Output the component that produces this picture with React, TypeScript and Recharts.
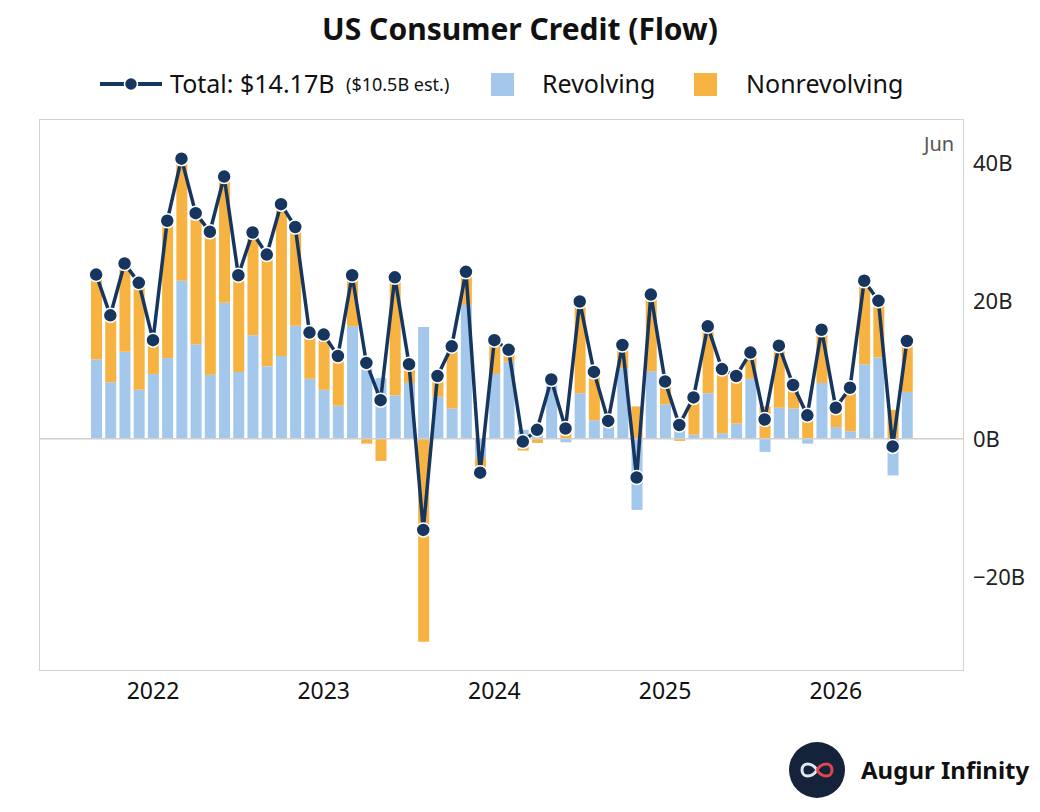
import React from 'react';
import {
  ComposedChart,
  Bar,
  Line,
  XAxis,
  YAxis,
  ReferenceLine,
} from 'recharts';

const months = [
  'Sep 21', 'Oct 21', 'Nov 21', 'Dec 21',
  'Jan 22', 'Feb 22', 'Mar 22', 'Apr 22', 'May 22', 'Jun 22', 'Jul 22', 'Aug 22', 'Sep 22', 'Oct 22', 'Nov 22', 'Dec 22',
  'Jan 23', 'Feb 23', 'Mar 23', 'Apr 23', 'May 23', 'Jun 23', 'Jul 23', 'Aug 23', 'Sep 23', 'Oct 23', 'Nov 23', 'Dec 23',
  'Jan 24', 'Feb 24', 'Mar 24', 'Apr 24', 'May 24', 'Jun 24', 'Jul 24', 'Aug 24', 'Sep 24', 'Oct 24', 'Nov 24', 'Dec 24',
  'Jan 25', 'Feb 25', 'Mar 25', 'Apr 25', 'May 25', 'Jun 25', 'Jul 25', 'Aug 25', 'Sep 25', 'Oct 25', 'Nov 25', 'Dec 25',
  'Jan 26', 'Feb 26', 'Mar 26', 'Apr 26', 'May 26', 'Jun 26',
];

// billions of USD, monthly change
const revolving = [
  11.5, 8.2, 12.6, 7.1,
  9.4, 11.7, 22.9, 13.7, 9.3, 19.7, 9.7, 15.0, 10.5, 12.0, 16.4, 8.7,
  7.1, 4.8, 16.3, 11.7, 8.8, 6.3, 8.1, 16.2, 6.1, 4.4, 19.4, -2.8,
  9.4, 11.2, 1.3, 1.9, 8.3, -0.5, 6.6, 2.7, 1.6, 10.2, -10.3, 9.8,
  5.0, 2.3, 0.6, 6.6, 0.8, 2.2, 8.7, -1.9, 4.5, 4.4, -0.7, 8.1,
  1.7, 1.1, 10.8, 11.8, -5.3, 6.8,
];

const nonrevolving = [
  12.3, 9.7, 12.8, 15.5,
  4.9, 19.9, 17.7, 19.0, 20.7, 18.3, 14.0, 14.9, 16.2, 22.0, 14.3, 6.7,
  8.0, 7.2, 7.4, -0.7, -3.2, 17.1, 2.7, -29.4, 3.0, 9.0, 4.8, -2.1,
  4.9, 1.7, -1.7, -0.6, 0.3, 2.0, 13.3, 7.0, 1.0, 3.4, 4.7, 11.1,
  3.3, -0.3, 5.4, 9.7, 9.3, 6.9, 3.8, 4.7, 9.0, 3.4, 4.1, 7.7,
  2.8, 6.3, 12.1, 8.2, 4.2, 7.37,
];

const total = [
  23.8, 17.9, 25.4, 22.6,
  14.3, 31.6, 40.6, 32.7, 30.0, 38.0, 23.7, 29.9, 26.7, 34.0, 30.7, 15.4,
  15.1, 12.0, 23.7, 11.0, 5.6, 23.4, 10.8, -13.2, 9.1, 13.4, 24.2, -4.9,
  14.3, 12.9, -0.4, 1.3, 8.6, 1.5, 19.9, 9.7, 2.6, 13.6, -5.6, 20.9,
  8.3, 2.0, 6.0, 16.3, 10.1, 9.1, 12.5, 2.8, 13.5, 7.8, 3.4, 15.8,
  4.5, 7.4, 22.9, 20.0, -1.1, 14.17,
];

const yearTicks = ['Jan 22', 'Jan 23', 'Jan 24', 'Jan 25', 'Jan 26'];
const yearLabels = ['2022', '2023', '2024', '2025', '2026'];
const yTicks = [-20, 0, 20, 40];

const data = months.map((m, i) => ({
  month: m,
  revolving: revolving[i],
  nonrevolving: nonrevolving[i],
  total: total[i],
}));

const NAVY = '#17365f';
const BLUE = '#a4c8ec';
const ORANGE = '#f7b342';
const FONT = '"Noto Sans", "Open Sans", sans-serif';

const formatY = (v: number) => (v < 0 ? `\u2212${Math.abs(v)}B` : `${v}B`);
const formatX = (v: string) => yearLabels[yearTicks.indexOf(v)] ?? '';

const abs = (left: number, top: number): React.CSSProperties => ({
  position: 'absolute',
  left,
  top,
  whiteSpace: 'nowrap',
});

export default function App() {
  return (
    <div
      style={{
        position: 'relative',
        width: 1040,
        height: 812,
        margin: -8,
        background: '#fff',
        fontFamily: FONT,
        color: '#111',
        overflow: 'hidden',
      }}
    >
      <div
        style={{
          position: 'absolute',
          top: 8,
          left: 0,
          width: 1040,
          textAlign: 'center',
          fontSize: 30,
          fontWeight: 700,
        }}
      >
        US Consumer Credit (Flow)
      </div>

      {/* legend */}
      <svg width={62} height={20} style={abs(100, 74)}>
        <line x1={0} y1={10} x2={62} y2={10} stroke={NAVY} strokeWidth={4} />
        <circle cx={31} cy={10} r={6.5} fill={NAVY} stroke="#fff" strokeWidth={1.5} />
      </svg>
      <div style={{ ...abs(170, 66), fontSize: 25 }}>Total: $14.17B</div>
      <div style={{ ...abs(346, 72), fontSize: 18 }}>($10.5B est.)</div>
      <div style={{ ...abs(491, 73), width: 23, height: 23, background: BLUE }} />
      <div style={{ ...abs(542, 66), fontSize: 25 }}>Revolving</div>
      <div style={{ ...abs(694, 73), width: 23, height: 23, background: ORANGE }} />
      <div style={{ ...abs(746, 66), fontSize: 25 }}>Nonrevolving</div>

      <div style={{ position: 'absolute', top: 0, left: 0 }}>
        <ComposedChart
          width={1040}
          height={812}
          data={data}
          stackOffset="sign"
          margin={{ top: 120, right: 17, bottom: 102, left: 40 }}
        >
          <XAxis
            dataKey="month"
            ticks={yearTicks}
            interval={0}
            tickFormatter={formatX}
            axisLine={false}
            tickLine={false}
            tickSize={0}
            tickMargin={13}
            height={40}
            padding={{ left: 49, right: 49 }}
            tick={{ fontSize: 23, fill: '#111', fontFamily: FONT }}
          />
          <YAxis
            orientation="right"
            domain={[-33.5, 46.2]}
            ticks={yTicks}
            tickFormatter={formatY}
            axisLine={false}
            tickLine={false}
            tickSize={0}
            tickMargin={10}
            width={60}
            tick={{ fontSize: 22, fill: '#222', fontFamily: FONT }}
          />
          <ReferenceLine y={0} stroke="#cfcfcf" strokeWidth={1.5} />
          <Bar
            dataKey="revolving"
            stackId="a"
            fill={BLUE}
            barSize={11}
            isAnimationActive={false}
          />
          <Bar
            dataKey="nonrevolving"
            stackId="a"
            fill={ORANGE}
            barSize={11}
            isAnimationActive={false}
          />
          <Line
            type="linear"
            dataKey="total"
            stroke={NAVY}
            strokeWidth={3.5}
            dot={{ r: 7, fill: NAVY, stroke: '#fff', strokeWidth: 1.5 }}
            activeDot={false}
            isAnimationActive={false}
          />
        </ComposedChart>
      </div>

      {/* plot frame */}
      <div
        style={{
          position: 'absolute',
          left: 39,
          top: 119,
          width: 923,
          height: 550,
          border: '1.5px solid #d2d2d2',
          pointerEvents: 'none',
        }}
      />
      <div style={{ ...abs(924, 130), fontSize: 20, color: '#555' }}>Jun</div>

      {/* brand */}
      <svg width={56} height={56} style={abs(789, 742)}>
        <circle cx={28} cy={28} r={28} fill="#14233a" />
        <path
          d="M28 28 C23 20, 13 20, 13 28 C13 36, 23 36, 28 28"
          fill="none"
          stroke="#dfe8f2"
          strokeWidth={3}
        />
        <path
          d="M28 28 C33 20, 43 20, 43 28 C43 36, 33 36, 28 28"
          fill="none"
          stroke="#e0474c"
          strokeWidth={3}
        />
      </svg>
      <div style={{ ...abs(861, 753), fontSize: 24, fontWeight: 700 }}>Augur Infinity</div>
    </div>
  );
}
